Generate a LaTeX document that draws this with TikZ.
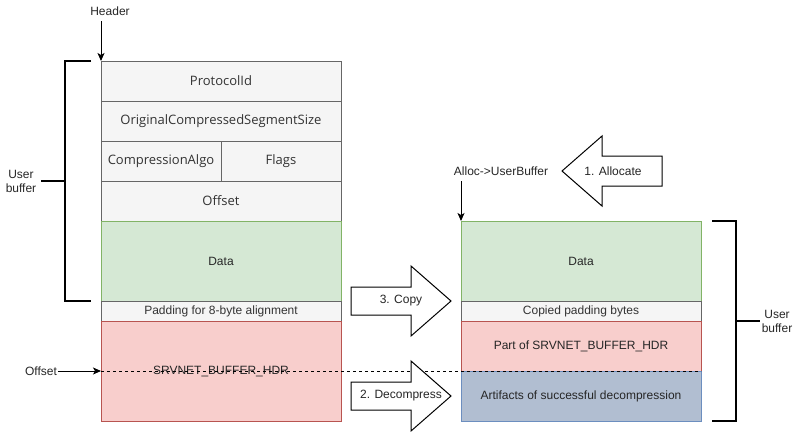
\documentclass[tikz,border=0pt]{standalone}
\usepackage{fontspec}
\setmainfont{Liberation Sans}
\newfontfamily\cellfont{Open Sans}
\usetikzlibrary{arrows.meta}
\definecolor{grayfill}{HTML}{F5F5F5}
\definecolor{grayline}{HTML}{666666}
\definecolor{graytext}{HTML}{333333}
\definecolor{greenfill}{HTML}{D5E8D4}
\definecolor{greenline}{HTML}{82B366}
\definecolor{redfill}{HTML}{F8CECC}
\definecolor{redline}{HTML}{B85450}
\definecolor{bluefill}{HTML}{B1BED1}
\definecolor{blueline}{HTML}{6C8EBF}
\tikzset{
  cellbase/.style={anchor=north west, inner sep=0pt, outer sep=0pt, line width=1pt, minimum width=240pt, text=black!85, font=\fontsize{12}{14}\selectfont},
  hdrcell/.style={cellbase, draw=grayline, fill=grayfill, text=graytext, minimum height=40pt, font=\cellfont\fontsize{13}{15}\selectfont},
  datacell/.style={cellbase, draw=greenline, fill=greenfill, minimum height=80pt},
  padcell/.style={cellbase, draw=grayline, fill=grayfill, text=graytext, minimum height=20pt},
  redcell/.style={cellbase, draw=redline, fill=redfill},
  artcell/.style={cellbase, draw=blueline, fill=bluefill, minimum height=50pt},
  lbl/.style={inner sep=1pt, text=black!85, font=\fontsize{12}{14}\selectfont, align=center},
  ptr/.style={-{Stealth[length=8pt,width=7pt,inset=2pt]}, line width=1pt},
  brace/.style={line width=2pt},
  blk/.style={draw, fill=white, line width=1pt, line join=miter}
}
\begin{document}
\begin{tikzpicture}[x=1pt,y=-1pt]
	\useasboundingbox (0,0) rectangle (802,431);
	%links
	\node[hdrcell] (proto) at (101,61) {ProtocolId};
	\node[hdrcell] (ocss) at (proto.south west) {OriginalCompressedSegmentSize};
	\node[hdrcell, minimum width=120pt] (algo) at (ocss.south west) {CompressionAlgo};
	\node[hdrcell, minimum width=120pt, anchor=north east] (flags) at (ocss.south east) {Flags};
	\node[hdrcell] (offs) at (algo.south west) {Offset};
	\node[datacell] (data) at (offs.south west) {Data};
	\node[padcell] (pad) at (data.south west) {Padding for 8-byte alignment};
	\node[redcell, minimum height=100pt] (srv) at (pad.south west) {SRVNET\_BUFFER\_HDR};
	%rechts
	\node[datacell] (rdata) at (461,221) {Data};
	\node[padcell] (rpad) at (rdata.south west) {Copied padding bytes};
	\node[redcell, minimum height=50pt] (rpart) at (rpad.south west) {Part of SRVNET\_BUFFER\_HDR};
	\node[artcell] (art) at (rpart.south west) {Artifacts of successful decompression};
	%zeiger
	\node[lbl] (header) at (110,11) {Header};
	\coordinate (hstart) at (101,21);
	\draw[ptr] (hstart) -- (proto.north west);
	\node[lbl] (alloc) at (501,171) {Alloc->UserBuffer};
	\coordinate (astart) at (461,181);
	\draw[ptr] (astart) -- (rdata.north west);
	\node[lbl] (offlbl) at (41,371) {Offset};
	\draw[ptr] (offlbl) -- (srv.west);
	\draw[dashed, line width=0.8pt, dash pattern=on 3pt off 3pt] (srv.west) -- (rpart.south east);
	%klammern
	\node[lbl] (ubleft) at (21,181) {User\\buffer};
	\coordinate (ubljoin) at (65,181);
	\draw[brace] (91,61) -- (65,61) -- (65,301) -- (91,301);
	\draw[brace] (41,181) -- (ubljoin);
	\node[lbl] (ubright) at (777,321) {User\\buffer};
	\coordinate (ubrjoin) at (736,321);
	\draw[brace] (712,221) -- (736,221) -- (736,421) -- (712,421);
	\draw[brace] (ubrjoin) -- (760,321);
	%pfeile
	\draw[blk] (562,171) -- (602,136) -- (602,156) -- (662,156) -- (662,186) -- (602,186) -- (602,206) -- cycle;
	\node[lbl] (allocate) at (613,171) {1. Allocate};
	\draw[blk] (451,301) -- (411,266) -- (411,287) -- (351,287) -- (351,315) -- (411,315) -- (411,336) -- cycle;
	\node[lbl] (copy) at (401,301) {3. Copy};
	\draw[blk] (451,396) -- (411,361) -- (411,382) -- (351,382) -- (351,410) -- (411,410) -- (411,431) -- cycle;
	\node[lbl] (decomp) at (401,396) {2. Decompress};
\end{tikzpicture}
\end{document}
